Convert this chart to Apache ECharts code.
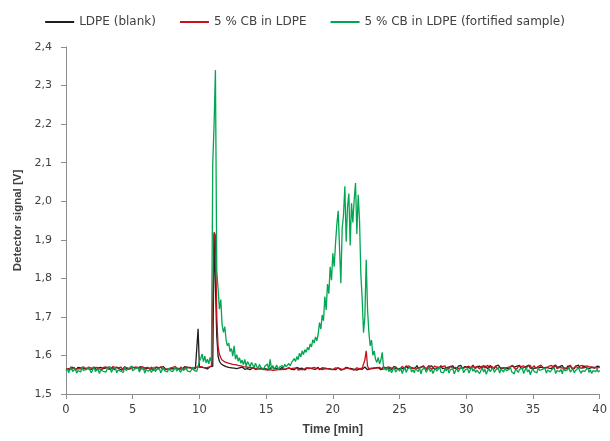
<!DOCTYPE html>
<html><head><meta charset="utf-8">
<script src="https://cdn.jsdelivr.net/npm/echarts@6/dist/echarts.min.js"></script>
<style>html,body{margin:0;padding:0;background:#fff}#c{width:610px;height:441px}</style>
</head><body><div id="c"></div>
<script>
// Detector signal in mV, sampled every 0.1 min from 0 to 40 min
const seriesNames = ['LDPE (blank)', '5 % CB in LDPE', '5 % CB in LDPE (fortified sample)'];
const xTickValues = [0, 5, 10, 15, 20, 25, 30, 35, 40];
const yTickValues = [1.5, 1.6, 1.7, 1.8, 1.9, 2.0, 2.1, 2.2, 2.3, 2.4];

const blankMV = [
1566,1569,1563,1567,1570,1565,1568,1562,1566,1569,
1564,1568,1571,1566,1563,1567,1569,1565,1568,1564,
1567,1570,1566,1562,1568,1565,1569,1571,1566,1563,
1568,1566,1570,1564,1567,1569,1563,1566,1570,1567,
1565,1568,1562,1567,1571,1566,1564,1569,1566,1568,
1570,1565,1567,1563,1568,1566,1571,1567,1564,1569,
1566,1563,1568,1570,1565,1567,1562,1569,1566,1568,
1564,1569,1566,1571,1567,1563,1568,1565,1570,1566,
1568,1565,1563,1567,1570,1566,1569,1564,1568,1571,
1566,1568,1564,1569,1567,1565,1570,1566,1563,1669,
1570,1566,1569,1564,1568,1570,1565,1567,1571,1568,
1572,1915,1918,1650,1598,1585,1579,1576,1574,1572,
1571,1573,1569,1572,1568,1570,1567,1571,1566,1569,
1568,1565,1570,1567,1564,1569,1566,1568,1563,1567,
1569,1566,1564,1568,1565,1570,1567,1563,1566,1568,
1565,1567,1563,1566,1569,1564,1567,1562,1566,1568,
1564,1566,1569,1563,1567,1565,1562,1568,1566,1564,
1567,1563,1566,1569,1564,1566,1563,1567,1565,1562,
1566,1568,1564,1567,1563,1565,1568,1564,1566,1569,
1563,1566,1568,1564,1567,1562,1566,1569,1565,1567,
1564,1567,1563,1566,1568,1565,1562,1567,1564,1566,
1569,1565,1567,1563,1566,1568,1564,1567,1562,1566,
1565,1568,1564,1567,1570,1566,1563,1568,1565,1569,
1566,1564,1568,1565,1569,1567,1563,1566,1570,1565,
1568,1571,1566,1569,1564,1568,1572,1566,1569,1565,
1570,1567,1572,1565,1569,1573,1567,1564,1570,1568,
1566,1571,1568,1574,1567,1565,1570,1568,1573,1566,
1569,1564,1571,1567,1573,1568,1565,1570,1567,1572,
1568,1574,1566,1570,1567,1572,1569,1565,1571,1568,
1573,1567,1570,1565,1572,1568,1574,1566,1569,1571,
1567,1570,1573,1566,1569,1575,1568,1565,1571,1567,
1572,1568,1566,1573,1569,1571,1565,1570,1574,1567,
1569,1566,1572,1568,1575,1570,1566,1571,1568,1573,
1567,1571,1565,1569,1573,1568,1570,1566,1572,1569,
1574,1567,1570,1568,1565,1572,1569,1575,1567,1570,
1566,1571,1568,1573,1569,1565,1570,1574,1568,1571,
1569,1573,1567,1570,1566,1572,1568,1575,1569,1566,
1571,1568,1574,1567,1570,1565,1572,1569,1573,1567,
1570,1566,1572,1569,1575,1568,1571,1567,1573,1570,
1568,1573,1566,1571,1569,1574,1567,1570,1572,1568,
1571];

const cbMV = [
1565,1568,1566,1570,1564,1567,1569,1563,1567,1566,
1569,1565,1567,1571,1566,1563,1568,1570,1565,1567,
1564,1568,1566,1569,1572,1565,1567,1563,1569,1566,
1570,1566,1564,1568,1565,1571,1567,1569,1564,1568,
1566,1570,1567,1563,1569,1566,1568,1572,1565,1567,
1568,1564,1570,1566,1569,1563,1567,1571,1566,1568,
1565,1569,1567,1564,1570,1566,1563,1568,1571,1565,
1567,1571,1565,1568,1566,1570,1564,1569,1567,1563,
1569,1566,1572,1565,1568,1564,1570,1567,1563,1569,
1566,1570,1565,1568,1572,1567,1564,1569,1566,1570,
1567,1571,1566,1569,1573,1568,1565,1570,1567,1572,
1575,1920,1912,1700,1622,1603,1594,1588,1586,1583,
1585,1581,1584,1579,1582,1577,1580,1576,1578,1574,
1577,1573,1576,1571,1574,1570,1572,1569,1571,1568,
1570,1567,1569,1566,1568,1565,1567,1564,1566,1563,
1565,1562,1566,1563,1564,1561,1565,1562,1564,1563,
1566,1563,1567,1564,1568,1565,1562,1567,1564,1566,
1563,1567,1565,1568,1562,1566,1564,1567,1563,1565,
1568,1564,1566,1563,1567,1565,1569,1564,1566,1562,
1566,1568,1563,1567,1565,1562,1566,1569,1564,1567,
1563,1566,1568,1564,1567,1562,1565,1568,1564,1566,
1567,1563,1566,1569,1564,1567,1562,1566,1568,1564,
1566,1563,1567,1565,1588,1612,1572,1566,1563,1567,
1564,1568,1565,1567,1563,1569,1566,1564,1568,1565,
1567,1570,1566,1569,1572,1565,1568,1571,1567,1564,
1569,1566,1572,1568,1565,1571,1567,1573,1566,1570,
1568,1573,1566,1570,1567,1572,1569,1564,1571,1568,
1566,1570,1574,1567,1569,1565,1572,1568,1570,1575,
1569,1566,1571,1568,1573,1567,1570,1565,1572,1569,
1567,1572,1569,1574,1566,1570,1568,1573,1567,1571,
1570,1566,1572,1569,1567,1574,1570,1566,1572,1568,
1565,1571,1568,1573,1567,1570,1575,1568,1566,1572,
1570,1567,1573,1566,1571,1569,1574,1567,1570,1568,
1572,1569,1566,1571,1568,1574,1567,1570,1565,1572,
1568,1571,1567,1573,1570,1566,1572,1569,1574,1567,
1570,1573,1566,1569,1572,1568,1575,1570,1567,1571,
1568,1566,1572,1569,1574,1567,1570,1573,1566,1571,
1569,1574,1567,1571,1568,1572,1566,1570,1575,1568,
1571,1567,1573,1569,1566,1572,1570,1574,1567,1570,
1573,1568,1571,1566,1570,1574,1569,1572,1567,1571,
1569];

const fortifiedMV = [
1560,1566,1555,1563,1569,1558,1562,1567,1554,1561,
1565,1557,1570,1561,1556,1564,1559,1568,1562,1555,
1563,1569,1558,1561,1566,1553,1562,1567,1559,1564,
1557,1566,1561,1571,1556,1563,1560,1568,1555,1562,
1567,1559,1564,1556,1570,1561,1558,1565,1562,1573,
1560,1556,1566,1562,1569,1557,1564,1560,1567,1554,
1563,1568,1559,1565,1556,1562,1570,1558,1564,1561,
1566,1555,1562,1569,1560,1564,1557,1567,1561,1565,
1558,1563,1571,1559,1566,1562,1556,1568,1561,1564,
1567,1560,1565,1557,1563,1570,1561,1566,1559,1564,
1585,1592,1604,1584,1598,1581,1590,1578,1595,1583,
2098,2200,2340,1820,1772,1720,1745,1680,1660,1675,
1640,1625,1632,1610,1618,1598,1625,1590,1602,1585,
1594,1580,1588,1576,1590,1572,1584,1578,1570,1582,
1575,1568,1580,1571,1565,1577,1569,1574,1563,1572,
1567,1578,1562,1590,1566,1574,1563,1569,1575,1562,
1570,1566,1574,1568,1577,1571,1566,1579,1573,1581,
1586,1592,1584,1597,1589,1606,1596,1612,1602,1615,
1608,1621,1614,1630,1622,1641,1632,1648,1638,1655,
1685,1668,1705,1690,1753,1718,1785,1760,1830,1795,
1865,1830,1890,1940,1975,1880,1787,1930,1965,2039,
1895,1985,2020,1885,1995,1945,2005,2047,1915,2017,
1950,1810,1745,1659,1700,1848,1720,1660,1625,1640,
1600,1612,1590,1582,1595,1578,1588,1608,1570,1565,
1562,1568,1558,1565,1555,1563,1570,1557,1561,1566,
1559,1567,1553,1562,1569,1556,1564,1560,1571,1557,
1563,1555,1566,1561,1558,1568,1552,1564,1560,1567,
1556,1563,1569,1558,1565,1553,1561,1567,1559,1564,
1570,1557,1562,1555,1566,1560,1568,1554,1563,1559,
1565,1552,1561,1567,1557,1564,1560,1569,1555,1562,
1558,1566,1554,1563,1570,1559,1565,1556,1562,1567,
1553,1561,1568,1557,1564,1551,1560,1566,1558,1563,
1569,1556,1562,1559,1567,1554,1565,1561,1557,1568,
1560,1555,1564,1570,1558,1563,1552,1566,1561,1556,
1564,1559,1567,1553,1562,1568,1557,1563,1550,1560,
1566,1558,1563,1555,1569,1561,1556,1564,1559,1567,
1554,1562,1566,1557,1563,1560,1568,1553,1561,1565,
1558,1564,1552,1567,1560,1556,1563,1569,1557,1562,
1566,1555,1561,1558,1568,1563,1554,1560,1565,1559,
1562,1569,1556,1563,1553,1561,1566,1558,1564,1557,
1561];

const timeMin = blankMV.map((_, i) => i / 10);
const seriesColors = ['#1e1e1e', '#c8101e', '#00a651'];

function toPairs(mv) { return mv.map((v, i) => [timeMin[i], v / 1000]); }

const chart = echarts.init(document.getElementById('c'), null, {renderer: 'canvas'});
const labelColor = '#404040';
const axisColor = '#8c8c8c';
chart.setOption({
  animation: false,
  backgroundColor: '#ffffff',
  textStyle: {fontFamily: 'DejaVu Sans'},
  legend: {
    top: 11, left: 'center',
    icon: 'rect', itemWidth: 29, itemHeight: 2, itemGap: 24,
    textStyle: {fontSize: 12, color: labelColor, fontFamily: 'DejaVu Sans'},
    data: seriesNames
  },
  grid: {left: 66, right: 10, top: 47, bottom: 42},
  xAxis: {
    type: 'value', min: xTickValues[0], max: xTickValues[xTickValues.length - 1], interval: 5,
    axisLine: {show: true, lineStyle: {color: axisColor}},
    axisTick: {show: true, length: 5, lineStyle: {color: axisColor}},
    splitLine: {show: false},
    axisLabel: {color: labelColor, fontSize: 11.5, margin: 10, fontFamily: 'DejaVu Sans'},
    name: 'Time [min]', nameLocation: 'middle', nameGap: 30,
    nameTextStyle: {fontWeight: 'bold', fontSize: 12, color: labelColor, fontFamily: 'Liberation Sans'}
  },
  yAxis: {
    type: 'value', min: yTickValues[0], max: yTickValues[yTickValues.length - 1], interval: 0.1,
    axisLine: {show: true, lineStyle: {color: axisColor}},
    axisTick: {show: true, length: 5, lineStyle: {color: axisColor}},
    splitLine: {show: false},
    axisLabel: {color: labelColor, fontSize: 11, margin: 14, fontFamily: 'DejaVu Sans',
      formatter: v => v.toFixed(1).replace('.', ',')},
    name: 'Detector signal [V]', nameLocation: 'middle', nameGap: 39, nameRotate: 90,
    nameTextStyle: {fontWeight: 'bold', fontSize: 11.5, color: labelColor, fontFamily: 'Liberation Sans'}
  },
  series: [blankMV, cbMV, fortifiedMV].map((mv, k) => ({
    name: seriesNames[k], type: 'line', data: toPairs(mv),
    symbol: 'none', showSymbol: false, sampling: null,
    lineStyle: {width: 1.3, color: seriesColors[k]},
    itemStyle: {color: seriesColors[k]},
    z: 2 + k
  }))
});
</script></body></html>
